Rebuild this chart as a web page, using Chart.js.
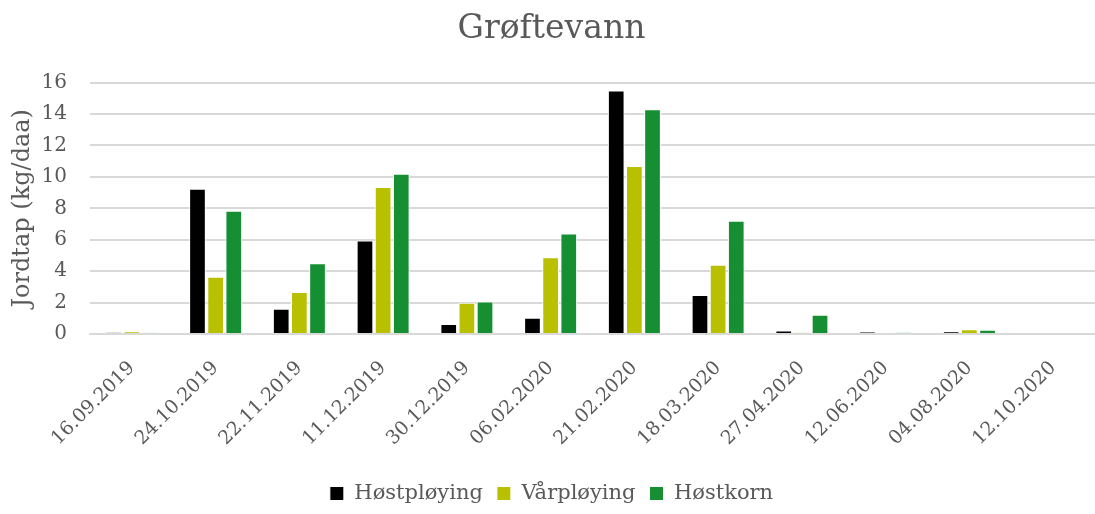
<!DOCTYPE html>
<html>
<head>
<meta charset="utf-8">
<script src="https://cdn.jsdelivr.net/npm/chart.js@4"></script>
<style>
    html, body { margin: 0; padding: 0; background: #fff; }
    #wrap { width: 1095px; height: 514px; }
</style>
</head>
<body>
<div id="wrap"><canvas id="myChart"></canvas></div>
<script>
const labels = ['16.09.2019', '24.10.2019', '22.11.2019', '11.12.2019', '30.12.2019', '06.02.2020',
    '21.02.2020', '18.03.2020', '27.04.2020', '12.06.2020', '04.08.2020', '12.10.2020'];
const hostploying = [0.1, 9.25, 1.6, 5.95, 0.63, 1.04, 15.5, 2.48, 0.23, 0.12, 0.15, 0];
const varploying = [0.15, 3.65, 2.67, 9.35, 1.99, 4.88, 10.7, 4.4, 0.1, 0.05, 0.3, 0];
const hostkorn = [0.08, 7.85, 4.5, 10.2, 2.07, 6.4, 14.3, 7.2, 1.23, 0.1, 0.27, 0];
const yTicks = [0, 2, 4, 6, 8, 10, 12, 14, 16];

const fontFam = '"DejaVu Serif", Georgia, serif';
const grey = '#595959';

Chart.defaults.font.family = fontFam;
Chart.defaults.color = grey;

function ds(label, data, color) {
    return {
        label: label,
        data: data,
        backgroundColor: color,
        borderColor: '#ffffff',
        borderWidth: 1,
        categoryPercentage: 0.65,
        barPercentage: 0.92
    };
}

var ctx = document.getElementById('myChart');
var myChart = new Chart(ctx, {
    type: 'bar',
    data: {
        labels: labels,
        datasets: [
            ds('Høstpløying', hostploying, '#000000'),
            ds('Vårpløying', varploying, '#b9c000'),
            ds('Høstkorn', hostkorn, '#158f32')
        ]
    },
    options: {
        responsive: true,
        maintainAspectRatio: false,
        animation: false,
        layout: { padding: { left: 8, right: 0, top: 10, bottom: 0 } },
        scales: {
            y: {
                min: 0,
                max: 16,
                afterBuildTicks: axis => { axis.ticks = yTicks.map(v => ({ value: v })); },
                afterFit: axis => { axis.width = 82; },
                ticks: { font: { size: 20 }, color: grey, padding: 23 },
                grid: { color: '#d9d9d9', lineWidth: 2, drawTicks: false },
                border: { display: false },
                title: { display: true, text: 'Jordtap (kg/daa)', font: { size: 24 }, color: grey, padding: { top: 0, bottom: 9 } }
            },
            x: {
                ticks: { font: { size: 19 }, color: grey, maxRotation: 45, minRotation: 45, padding: 15 },
                grid: { display: false },
                border: { color: '#d9d9d9', width: 2 },
                // etiketter under aksen: fast høyde, ingen ekstra venstremarg
                afterFit: axis => {
                    axis.height = 135;
                    axis.paddingLeft = 0;
                    axis.paddingRight = 0;
                }
            }
        },
        plugins: {
            title: {
                display: true,
                text: 'Grøftevann',
                font: { size: 33, weight: 'normal' },
                color: grey,
                padding: { top: 0, bottom: 33 }
            },
            legend: {
                position: 'bottom',
                labels: { font: { size: 21 }, color: grey, boxWidth: 14, boxHeight: 14, padding: 14 }
            },
            tooltip: { enabled: false }
        }
    }
});
</script>
</body>
</html>
